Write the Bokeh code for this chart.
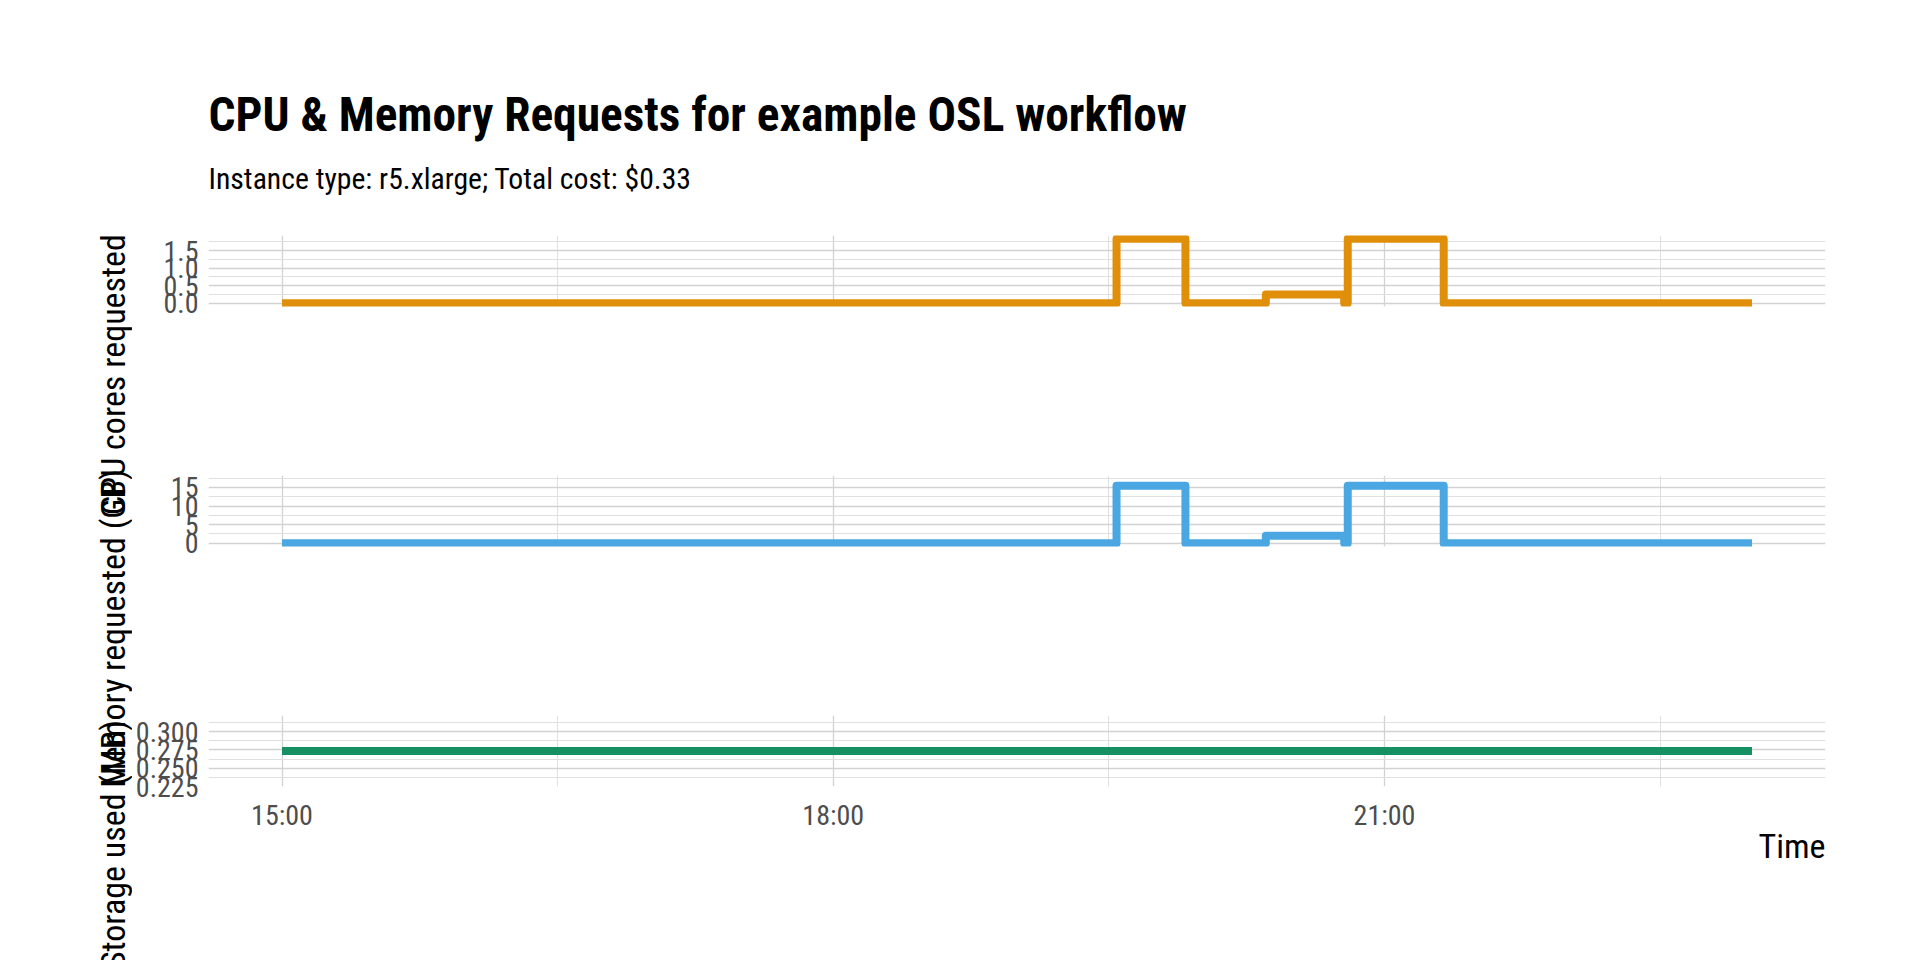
import math
import pandas as pd
from bokeh.plotting import figure
from bokeh.layouts import row, column
from bokeh.models import (Range1d, FixedTicker, DatetimeTickFormatter, PrintfTickFormatter,
                          Label, Title, ColumnDataSource)
from bokeh.embed import file_html
from bokeh.resources import INLINE

# ---------------- data ----------------
day = "2021-06-01 "
times = ["15:00:00", "19:32:30", "19:55:00", "20:21:15", "20:46:50", "20:48:00", "21:19:20", "23:00:00"]
cpu_cores = [0.0, 1.835, 0.0, 0.25, 0.0, 1.835, 0.0, 0.0]
memory_gb = [0.0, 15.45, 0.0, 2.0, 0.0, 15.45, 0.0, 0.0]
storage_mb = [0.2736, 0.2736, 0.2736, 0.2736, 0.2736, 0.2736, 0.2736, 0.2736]

x_major = ["15:00", "18:00", "21:00"]
x_minor = ["16:30", "19:30", "22:30"]
cpu_ticks = [0.0, 0.5, 1.0, 1.5]
cpu_minor = [0.25, 0.75, 1.25, 1.75]
mem_ticks = [0, 5, 10, 15]
mem_minor = [2.5, 7.5, 12.5, 17.5]
sto_ticks = [0.225, 0.250, 0.275, 0.300]
sto_minor = [0.2375, 0.2625, 0.2875, 0.3125]
mem_range = (-0.86, 18.2)
sto_range = (0.2250, 0.3222)

title = "CPU & Memory Requests for example OSL workflow"
subtitle = "Instance type: r5.xlarge; Total cost: $0.33"
ylabels = ["CPU cores requested", "Memory requested (GB)", "Storage used (MB)"]
xlabel = "Time"
colors = ["#E08F0B", "#4AA7E2", "#169063"]

FONT = "Roboto Condensed, Arial Narrow, Liberation Sans"

t = pd.to_datetime([day + s for s in times])
src = ColumnDataSource(dict(t=t, cpu=cpu_cores, mem=memory_gb, sto=storage_mb))


def ms(s):
    return pd.Timestamp(day + s).value / 1e6


span = t.max() - t.min()
x_range = Range1d(t.min() - span * 0.05, t.max() + span * 0.05)
xticker = FixedTicker(ticks=[ms(s) for s in x_major], minor_ticks=[ms(s) for s in x_minor])

MAIN_W = 1788


def panel(height, top, bottom, yr, yticks, yminor, fmt, field, color, show_x):
    p = figure(width=MAIN_W, height=height, x_axis_type="datetime", x_range=x_range,
               y_range=Range1d(*yr), toolbar_location=None, output_backend="svg",
               min_border_left=76, min_border_right=95, min_border_top=top,
               min_border_bottom=bottom, outline_line_color=None,
               background_fill_color="white", border_fill_color="white")
    p.xaxis.ticker = xticker
    p.xgrid.ticker = xticker
    p.xaxis.formatter = DatetimeTickFormatter(hours="%H:%M", hourmin="%H:%M", minutes="%H:%M",
                                              days="%H:%M", minsec="%H:%M")
    yt = FixedTicker(ticks=yticks, minor_ticks=yminor)
    p.yaxis.ticker = yt
    p.ygrid.ticker = yt
    p.yaxis.formatter = PrintfTickFormatter(format=fmt)
    for ax in (p.xaxis, p.yaxis):
        ax.axis_line_color = None
        ax.major_tick_line_color = None
        ax.minor_tick_line_color = None
        ax.major_tick_out = 0
        ax.minor_tick_out = 0
        ax.major_tick_in = 0
        ax.minor_tick_in = 0
        ax.major_label_text_font = FONT
        ax.major_label_text_font_size = "28px"
        ax.major_label_text_color = "#4D4D4D"
    p.yaxis.major_label_standoff = 10
    p.xaxis.major_label_standoff = 12
    if not show_x:
        p.xaxis.visible = False
    for g in (p.xgrid, p.ygrid):
        g.grid_line_color = "#d2d2d2"
        g.grid_line_width = 1.3
        g.minor_grid_line_color = "#e0e0e0"
        g.minor_grid_line_width = 1.0
    p.step("t", field, source=src, mode="after", line_color=color, line_width=8,
           line_join="round")
    return p


def make_title(text, size, standoff, style, align):
    try:
        return Title(text=text, text_font=FONT, text_font_size=size, standoff=standoff,
                     text_font_style=style, align=align, text_color="black")
    except Exception:
        return Title(text=text, text_font=FONT, text_font_size=size, standoff=0,
                     text_font_style=style, align=align, text_color="black")


cpu_pad = (max(cpu_cores) - min(cpu_cores)) * 0.05
f1 = panel(400, 235, 94, (min(cpu_cores) - cpu_pad, max(cpu_cores) + cpu_pad),
           cpu_ticks, cpu_minor, "%.1f", "cpu", colors[0], False)
f2 = panel(240, 75, 94, mem_range, mem_ticks, mem_minor, "%.0f", "mem", colors[1], False)
f3 = panel(320, 75, 174, sto_range, sto_ticks, sto_minor, "%.3f", "sto", colors[2], True)

f1.add_layout(make_title(subtitle, "29.7px", 80, "normal", "left"), "above")
f1.add_layout(make_title(title, "47.4px", -48, "bold", "left"), "above")
f3.add_layout(make_title(xlabel, "34px", -22, "normal", "right"), "below")

left = figure(width=132, height=960, x_range=Range1d(0, 132), y_range=Range1d(960, 0),
              toolbar_location=None, output_backend="svg", min_border=0,
              x_axis_location=None, y_axis_location=None, outline_line_color=None,
              border_fill_color="white", background_fill_color="white")
left.grid.visible = False
for lab, yc in zip(ylabels, [374, 628, 844]):
    left.add_layout(Label(x=112, y=yc, text=lab, angle=math.pi / 2, text_font=FONT,
                          text_font_size="34px", text_align="center", text_baseline="middle",
                          text_color="black"))

layout = row(left, column(f1, f2, f3, spacing=0), spacing=0)

open("out.html", "w").write(file_html(layout, INLINE))
